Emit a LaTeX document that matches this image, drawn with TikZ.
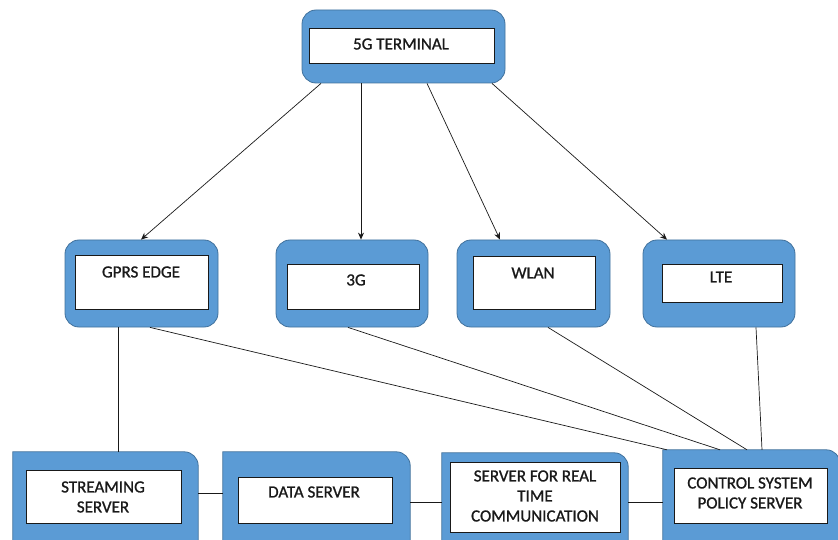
\documentclass[tikz,border=0pt]{standalone}
\usepackage{fontspec}
\setmainfont{Carlito}[FakeBold=1]
\usetikzlibrary{arrows.meta}
\definecolor{boxblue}{RGB}{91,155,213}
\definecolor{edgeblue}{RGB}{65,113,156}
\definecolor{inkgray}{RGB}{25,25,25}

\begin{document}
\begin{tikzpicture}[x=1pt, y=-1pt,
    every node/.style={font=\fontsize{17}{20}\selectfont, inner sep=0pt},
    outerbox/.style={rectangle, rounded corners=14pt, draw=edgeblue, fill=boxblue, line width=0.8pt},
    baseframe/.style={rectangle},
    innerbox/.style={rectangle, draw=inkgray, fill=white, line width=0.8pt},
    boxtext/.style={align=center, text=inkgray},
    link/.style={draw=inkgray, line width=0.7pt},
    feed/.style={link, -{Stealth[length=7pt,width=6pt]}}]
    \clip (0,0) rectangle (838,540);

    % top terminal
    \node[outerbox, minimum width=203pt, minimum height=73pt] (term) at (403.5,46.5) {};
    \node[innerbox, minimum width=185pt, minimum height=35pt] (termin) at (401.5,45.5) {};
    \node[boxtext] (termtxt) at (401,44) {5G TERMINAL};

    % access networks
    \node[outerbox, minimum width=153pt, minimum height=87pt] (gprs) at (141.5,283.5) {};
    \node[outerbox, minimum width=152pt, minimum height=87pt] (umts) at (352,283.5) {};
    \node[outerbox, minimum width=153pt, minimum height=87pt] (wlan) at (533.5,283.5) {};
    \node[outerbox, minimum width=152pt, minimum height=87pt] (lte) at (719,283.5) {};
    \node[innerbox, minimum width=133pt, minimum height=54pt] (gprsin) at (141.5,282) {};
    \node[innerbox, minimum width=132pt, minimum height=45pt] (umtsin) at (353,286.5) {};
    \node[innerbox, minimum width=122pt, minimum height=53pt] (wlanin) at (534,282.5) {};
    \node[innerbox, minimum width=120pt, minimum height=38pt] (ltein) at (722,283) {};
    \node[boxtext] (gprstxt) at (141,272) {GPRS EDGE};
    \node[boxtext] (umtstxt) at (356,280) {3G};
    \node[boxtext] (wlantxt) at (533,273) {WLAN};
    \node[boxtext] (ltetxt) at (721,277) {LTE};

    % servers (bottom row, only the top right corner is rounded)
    \node[baseframe, minimum width=185pt, minimum height=108pt] (stream) at (105.5,506) {};
    \node[baseframe, minimum width=187pt, minimum height=108pt] (data) at (316.5,506) {};
    \node[baseframe, minimum width=186pt, minimum height=107pt] (rtc) at (535,506.5) {};
    \node[baseframe, minimum width=177pt, minimum height=110pt] (ctrl) at (751.5,505) {};
    \foreach \n in {stream,data,rtc,ctrl}
        \filldraw[draw=edgeblue, fill=boxblue, line width=0.8pt]
            (\n.south west) -- (\n.north west)
            [rounded corners=14pt] -- (\n.north east) [sharp corners] -- (\n.south east) -- cycle;
    \node[innerbox, minimum width=155pt, minimum height=53pt] (streamin) at (103.5,496.5) {};
    \node[innerbox, minimum width=154pt, minimum height=46pt] (datain) at (315,500) {};
    \node[innerbox, minimum width=170pt, minimum height=70pt] (rtcin) at (535,497) {};
    \node[innerbox, minimum width=153pt, minimum height=55pt] (ctrlin) at (750.5,495.5) {};
    \node[boxtext] (streamtxt) at (103,497) {STREAMING\\SERVER};
    \node[boxtext] (datatxt) at (314,492) {DATA SERVER};
    \node[boxtext] (rtctxt) at (535,496) {SERVER FOR REAL\\TIME\\COMMUNICATION};
    \node[boxtext] (ctrltxt) at (750,493) {CONTROL SYSTEM\\POLICY SERVER};

    % terminal to access networks
    \draw[feed] ([xshift=-82.5pt]term.south) -- ([xshift=-0.5pt]gprs.north);
    \draw[feed] ([xshift=-42.5pt]term.south) -- ([xshift=9pt]umts.north);
    \draw[feed] ([xshift=23.5pt]term.south) -- ([xshift=-33.5pt]wlan.north);
    \draw[feed] ([xshift=88.5pt]term.south) -- ([xshift=-52pt]lte.north);

    % access networks to policy server
    \draw[link] ([xshift=8.5pt]gprs.south) -- ([xshift=-84.5pt]ctrl.north);
    \draw[link] ([xshift=-4pt]umts.south) -- ([xshift=-31.5pt]ctrl.north);
    \draw[link] ([xshift=14.5pt]wlan.south) -- ([xshift=-4.5pt]ctrl.north);
    \draw[link] ([xshift=37pt]lte.south) -- ([xshift=10.5pt]ctrl.north);
    \draw[link] ([xshift=-23.5pt]gprs.south) -- ([xshift=-23.5pt]gprs.south |- stream.north);

    % server chain
    \draw[link] ([yshift=13pt]stream.east) -- ([yshift=13pt]stream.east -| data.west);
    \draw[link] ([yshift=4pt]data.east) -- ([yshift=4pt]data.east -| rtc.west);
    \draw[link] ([yshift=4.5pt]rtc.east) -- ([yshift=4.5pt]rtc.east -| ctrl.west);
\end{tikzpicture}
\end{document}
